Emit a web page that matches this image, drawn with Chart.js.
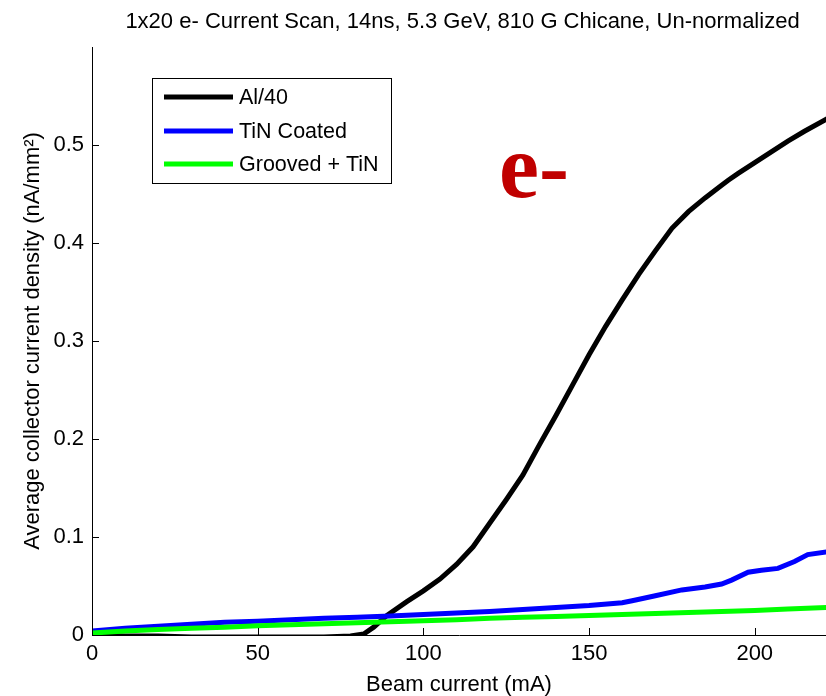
<!DOCTYPE html>
<html>
<head>
<meta charset="utf-8">
<script src="https://cdn.jsdelivr.net/npm/chart.js@4/dist/chart.umd.min.js"></script>
<style>
html,body{margin:0;padding:0;background:#fff;}
#wrap{width:826px;height:696px;position:relative;}
</style>
</head>
<body>
<div id="wrap"><canvas id="c" width="826" height="696"></canvas></div>
<script>
// ---- data ----
const seriesNames = ["Al/40", "TiN Coated", "Grooved + TiN"];
const seriesColors = ["#000000", "#0000ff", "#00ff00"];

const alX = [0,10,20,30,40,50,60,70,78,82,85,89,95,100,105,110,115,120,125,130,135,140,145,150,155,160,165,170,175,180,185,190,192,195,200,205,210,215,222];
const alY = [0,-0.001,-0.001,-0.002,-0.002,-0.002,-0.002,-0.002,-0.001,0.001,0.008,0.020,0.034,0.045,0.057,0.072,0.090,0.114,0.138,0.163,0.194,0.224,0.255,0.286,0.315,0.342,0.368,0.392,0.415,0.432,0.446,0.459,0.464,0.471,0.482,0.493,0.504,0.514,0.527];

const tinX = [0,10,20,30,40,50,60,70,80,90,100,110,120,130,140,150,160,163,170,178,185,190,193,198,202,207,212,216,222];
const tinY = [0.004,0.007,0.009,0.011,0.013,0.014,0.0155,0.017,0.018,0.0195,0.021,0.0225,0.024,0.026,0.028,0.030,0.033,0.035,0.040,0.046,0.049,0.052,0.056,0.064,0.066,0.068,0.075,0.082,0.085];

const grvX = [0,10,20,30,40,50,60,70,80,90,100,110,120,130,140,150,160,170,180,190,200,210,222];
const grvY = [0.002,0.004,0.0055,0.007,0.008,0.0095,0.0105,0.0115,0.0125,0.0135,0.0145,0.0155,0.017,0.018,0.019,0.020,0.021,0.022,0.023,0.024,0.025,0.0265,0.028];

const xTickValues = [0,50,100,150,200];
const yTickValues = [0,0.1,0.2,0.3,0.4,0.5];

const titleText = "1x20 e- Current Scan, 14ns, 5.3 GeV, 810 G Chicane, Un-normalized";
const xTitle = "Beam current (mA)";
const yTitle = "Average collector current density (nA/mm\u00B2)";
const annotationText = "e-";

const FONT = "'Liberation Sans', Arial, sans-serif";

function pts(xs, ys){ return xs.map((x,i)=>({x:x, y:ys[i]})); }

const datasets = [
  {label: seriesNames[0], data: pts(alX, alY), order: 2},
  {label: seriesNames[1], data: pts(tinX, tinY), order: 1},
  {label: seriesNames[2], data: pts(grvX, grvY), order: 0}
].map((d,i)=>Object.assign(d, {
  borderColor: seriesColors[i], backgroundColor: seriesColors[i],
  borderWidth: 5, pointRadius: 0, tension: 0, fill: false
}));

const extras = {
  id: 'extras',
  afterDraw(chart){
    const ctx = chart.ctx, a = chart.chartArea;
    const xs = chart.scales.x, ys = chart.scales.y;
    ctx.save();
    // inward tick marks
    ctx.strokeStyle = '#000'; ctx.lineWidth = 1;
    ctx.beginPath();
    xTickValues.forEach(v=>{ const px = Math.round(xs.getPixelForValue(v))+0.5; ctx.moveTo(px, a.bottom); ctx.lineTo(px, a.bottom-7); });
    yTickValues.forEach(v=>{ const py = Math.round(ys.getPixelForValue(v))+0.5; ctx.moveTo(a.left, py); ctx.lineTo(a.left+7, py); });
    ctx.stroke();
    // title
    ctx.fillStyle = '#000';
    ctx.font = "22px " + FONT;
    ctx.textAlign = 'center'; ctx.textBaseline = 'middle';
    ctx.fillText(titleText, 462.5, 22);
    // legend box
    const lx = 152, ly = 78, lw = 239, lh = 105;
    ctx.fillStyle = '#fff';
    ctx.fillRect(lx, ly, lw, lh);
    ctx.strokeStyle = '#000'; ctx.lineWidth = 1;
    ctx.strokeRect(lx+0.5, ly+0.5, lw, lh);
    const rows = [97, 131, 164];
    chart.data.datasets.forEach((d,i)=>{
      ctx.strokeStyle = d.borderColor; ctx.lineWidth = 5;
      ctx.beginPath(); ctx.moveTo(164, rows[i]); ctx.lineTo(233, rows[i]); ctx.stroke();
      ctx.fillStyle = '#000';
      ctx.font = "21.5px " + FONT;
      ctx.textAlign = 'left'; ctx.textBaseline = 'middle';
      ctx.fillText(d.label, 239, rows[i]+1);
    });
    // e- annotation
    ctx.fillStyle = '#c00000';
    ctx.font = "bold 90px 'Liberation Serif', 'Times New Roman', serif";
    ctx.textAlign = 'left'; ctx.textBaseline = 'alphabetic';
    ctx.fillText(annotationText, 499, 197);
    ctx.restore();
  }
};

new Chart(document.getElementById('c'), {
  type: 'line',
  data: {datasets: datasets},
  options: {
    responsive: false,
    animation: false,
    devicePixelRatio: 1,
    layout: {padding: {top: 47, right: 0, bottom: 0, left: 0}},
    plugins: {legend: {display: false}, title: {display: false}, tooltip: {enabled: false}},
    scales: {
      x: {
        type: 'linear', min: 0, max: 221.5,
        afterBuildTicks: s => { s.ticks = xTickValues.map(v=>({value:v})); },
        afterFit: s => { s.height = 61; },
        grid: {display: false, drawTicks: false},
        border: {display: true, color: '#000', width: 1},
        ticks: {color: '#000', font: {family: FONT, size: 22}, padding: 6, maxRotation: 0, autoSkip: false},
        title: {display: true, text: xTitle, color: '#000', font: {family: FONT, size: 22}, padding: {top: 0, bottom: -2}}
      },
      y: {
        type: 'linear', min: 0, max: 0.6,
        afterBuildTicks: s => { s.ticks = yTickValues.map(v=>({value:v})); },
        afterFit: s => { s.width = 92; },
        grid: {display: false, drawTicks: false},
        border: {display: true, color: '#000', width: 1},
        ticks: {color: '#000', font: {family: FONT, size: 22}, padding: 8,
          callback: v => (Math.round(v*10)/10).toString()},
        title: {display: true, text: yTitle, color: '#000', font: {family: FONT, size: 22}, padding: {top: 20, bottom: 0}}
      }
    }
  },
  plugins: [extras]
});
</script>
</body>
</html>
